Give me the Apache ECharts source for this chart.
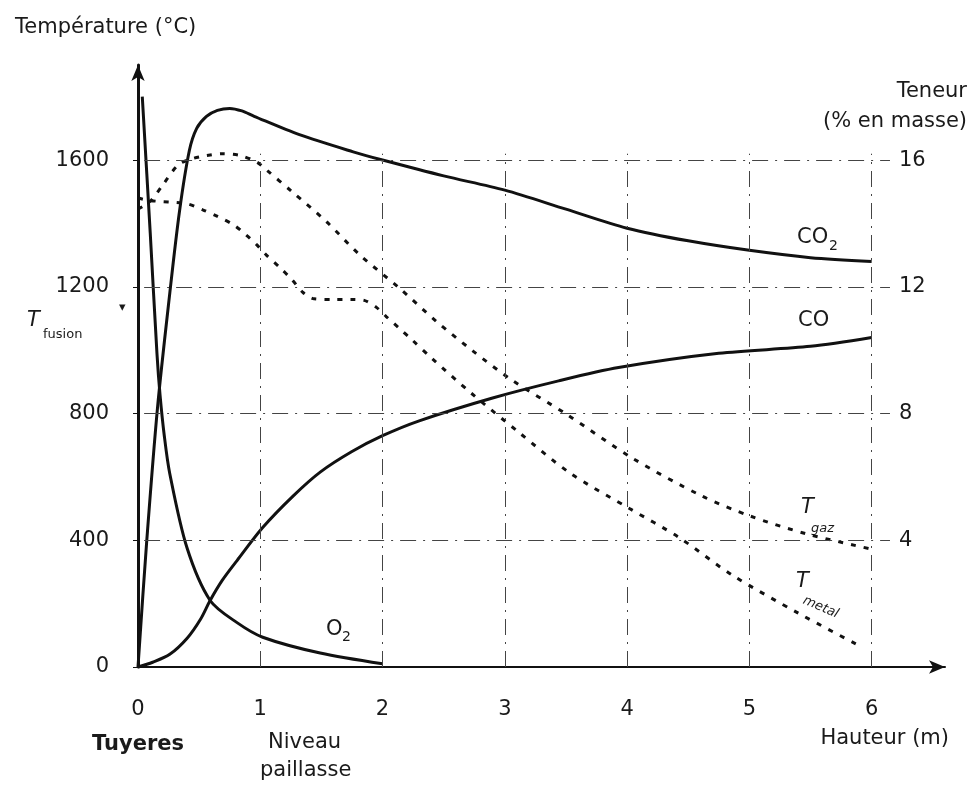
<!DOCTYPE html>
<html>
<head>
<meta charset="utf-8">
<script src="https://cdn.jsdelivr.net/npm/echarts@6/dist/echarts.min.js"></script>
<style>
  html, body { margin: 0; padding: 0; background: #fff; }
  #chart { width: 971px; height: 786px; }
</style>
</head>
<body>
<div id="chart"></div>
<script>
// tick values
const xTicks = [0, 1, 2, 3, 4, 5, 6];
const tempTicks = [0, 400, 800, 1200, 1600];
const pctTicks = [4, 8, 12, 16];
const gridX = [1, 2, 3, 4, 5, 6];
const gridT = [400, 800, 1200, 1600];

// temperatures (°C) vs hauteur (m)
const tGaz = [[0, 1445], [0.1, 1470], [0.2, 1520], [0.33, 1585], [0.45, 1605], [0.56, 1614],
  [0.69, 1620], [0.83, 1615], [0.97, 1594], [1.05, 1569], [1.26, 1500], [1.54, 1406],
  [1.81, 1302], [2.14, 1195], [2.44, 1091], [2.74, 997], [3.06, 905], [3.5, 799],
  [4.04, 660], [4.61, 540], [5.01, 476], [5.46, 421], [6.0, 372]];
const tMetal = [[0, 1480], [0.1, 1472], [0.4, 1462], [0.53, 1443], [0.65, 1422], [0.78, 1396],
  [0.88, 1365], [0.97, 1333], [1.05, 1300], [1.16, 1261], [1.26, 1222], [1.35, 1182],
  [1.44, 1162], [1.6, 1160], [1.74, 1160], [1.85, 1157], [1.95, 1135], [2.03, 1106],
  [2.14, 1068], [2.24, 1033], [2.41, 972], [2.72, 866], [3.12, 739], [3.53, 613],
  [4.02, 500], [4.42, 410], [4.86, 290], [5.4, 170], [5.92, 63]];

// teneur (% en masse) vs hauteur (m)
const co2 = [[0, 0], [0.07, 3.9], [0.16, 8.2], [0.26, 11.8], [0.34, 14.4], [0.42, 16.3],
  [0.48, 17.0], [0.56, 17.38], [0.65, 17.57], [0.75, 17.63], [0.85, 17.55], [0.95, 17.38],
  [1.32, 16.8], [1.76, 16.26], [2, 16.0], [2.5, 15.5], [3, 15.05], [3.5, 14.45], [4, 13.85],
  [4.5, 13.45], [5, 13.15], [5.5, 12.92], [6, 12.8]];
const co = [[0, 0], [0.12, 0.15], [0.26, 0.4], [0.4, 0.9], [0.51, 1.5], [0.59, 2.1],
  [0.69, 2.74], [0.81, 3.36], [1.02, 4.4], [1.27, 5.4], [1.49, 6.15], [1.75, 6.8],
  [2, 7.3], [2.3, 7.77], [2.9, 8.49], [3.44, 9.03], [3.93, 9.45], [4.75, 9.9], [5.5, 10.12], [6, 10.4]];
const o2 = [[0.035, 18.0], [0.1, 13.7], [0.155, 9.9], [0.18, 8.6], [0.215, 7.3], [0.26, 6.1],
  [0.4, 3.77], [0.59, 2.1], [0.81, 1.4], [1.02, 0.94], [1.49, 0.44], [2.0, 0.1]];

const ink = '#1a1a1a';
const font = '"DejaVu Sans", Verdana, sans-serif';
const textFont = (size) => size + 'px ' + font;

// dash-dot grid segments built from the tick arrays
const gridLines = [];
gridT.forEach(t => gridLines.push([{ coord: [0.05, t] }, { coord: [6.15, t] }]));
gridX.forEach(x => gridLines.push([{ coord: [x, 0] }, { coord: [x, 1620] }]));

const curveStyle = { color: '#111', width: 3 };
const dashStyle = { color: '#111', width: 3, type: [5, 8] };
const tickLabel = { color: ink, fontSize: 21, fontFamily: font };

const chart = echarts.init(document.getElementById('chart'));

function txt(left, top, text, font) {
  return { type: 'text', left, top, style: { text, fill: ink, font: font || textFont(21) } };
}

const option = {
  animation: false,
  backgroundColor: '#fff',
  grid: { left: 138, right: 26, top: 65, bottom: 119 },
  xAxis: {
    type: 'value', min: 0, max: 6.6,
    axisLine: { lineStyle: { color: '#111', width: 2 }, symbol: ['none', 'arrow'], symbolSize: [10, 16] },
    axisTick: { show: false },
    splitLine: { show: false },
    axisLabel: Object.assign({ customValues: xTicks, margin: 32 }, tickLabel)
  },
  yAxis: [
    {
      type: 'value', min: 0, max: 1900,
      axisLine: { show: true, lineStyle: { color: '#111', width: 3 }, symbol: ['none', 'arrow'], symbolSize: [10, 16] },
      axisTick: { show: true, customValues: tempTicks, length: 5, lineStyle: { color: '#111' } },
      splitLine: { show: false },
      axisLabel: Object.assign({ customValues: tempTicks, margin: 29, formatter: v => String(v) }, tickLabel)
    },
    {
      type: 'value', min: 0, max: 19, position: 'right', offset: -52,
      axisLine: { show: false },
      axisTick: { show: false },
      splitLine: { show: false },
      axisLabel: Object.assign({ customValues: pctTicks, margin: 6 }, tickLabel)
    }
  ],
  series: [
    {
      name: 'T gaz', type: 'line', yAxisIndex: 0, data: tGaz, symbol: 'none',
      smooth: 0.3, lineStyle: dashStyle,
      markLine: {
        silent: true, symbol: ['none', 'none'], label: { show: false },
        lineStyle: { color: '#444', width: 1, type: [16, 7, 2, 7] },
        data: gridLines
      }
    },
    { name: 'T metal', type: 'line', yAxisIndex: 0, data: tMetal, symbol: 'none', smooth: 0.3, lineStyle: dashStyle },
    { name: 'CO2', type: 'line', yAxisIndex: 1, data: co2, symbol: 'none', smooth: 0.3, lineStyle: curveStyle },
    { name: 'CO', type: 'line', yAxisIndex: 1, data: co, symbol: 'none', smooth: 0.3, lineStyle: curveStyle },
    { name: 'O2', type: 'line', yAxisIndex: 1, data: o2, symbol: 'none', smooth: 0.3, lineStyle: curveStyle }
  ],
  graphic: [
    txt(15, 17, 'Température (°C)'),
    { type: 'text', right: 4, top: 81, style: { text: 'Teneur', fill: ink, font: textFont(21) } },
    { type: 'text', right: 4, top: 111, style: { text: '(% en masse)', fill: ink, font: textFont(21) } },
    txt(92, 734, 'Tuyeres', 'bold 21px ' + font),
    txt(268, 732, 'Niveau'),
    txt(260, 760, 'paillasse'),
    { type: 'text', right: 22, top: 728, style: { text: 'Hauteur (m)', fill: ink, font: textFont(21) } },
    txt(797, 227, 'CO'),
    txt(829, 239, '2', textFont(14)),
    txt(798, 310, 'CO'),
    txt(326, 619, 'O'),
    txt(342, 630, '2', textFont(14)),
    txt(801, 497, 'T', 'italic 21px ' + font),
    txt(811, 522, 'gaz', 'italic 13px ' + font),
    txt(796, 571, 'T', 'italic 21px ' + font),
    { type: 'text', x: 806, y: 594, rotation: -0.4, style: { text: 'metal', fill: ink, font: 'italic 13px ' + font } },
    txt(27, 310, 'T', 'italic 21px ' + font),
    txt(43, 328, 'fusion', textFont(13)),
    txt(119, 301, '▾', '13px ' + font)
  ]
};

chart.setOption(option);
</script>
</body>
</html>
